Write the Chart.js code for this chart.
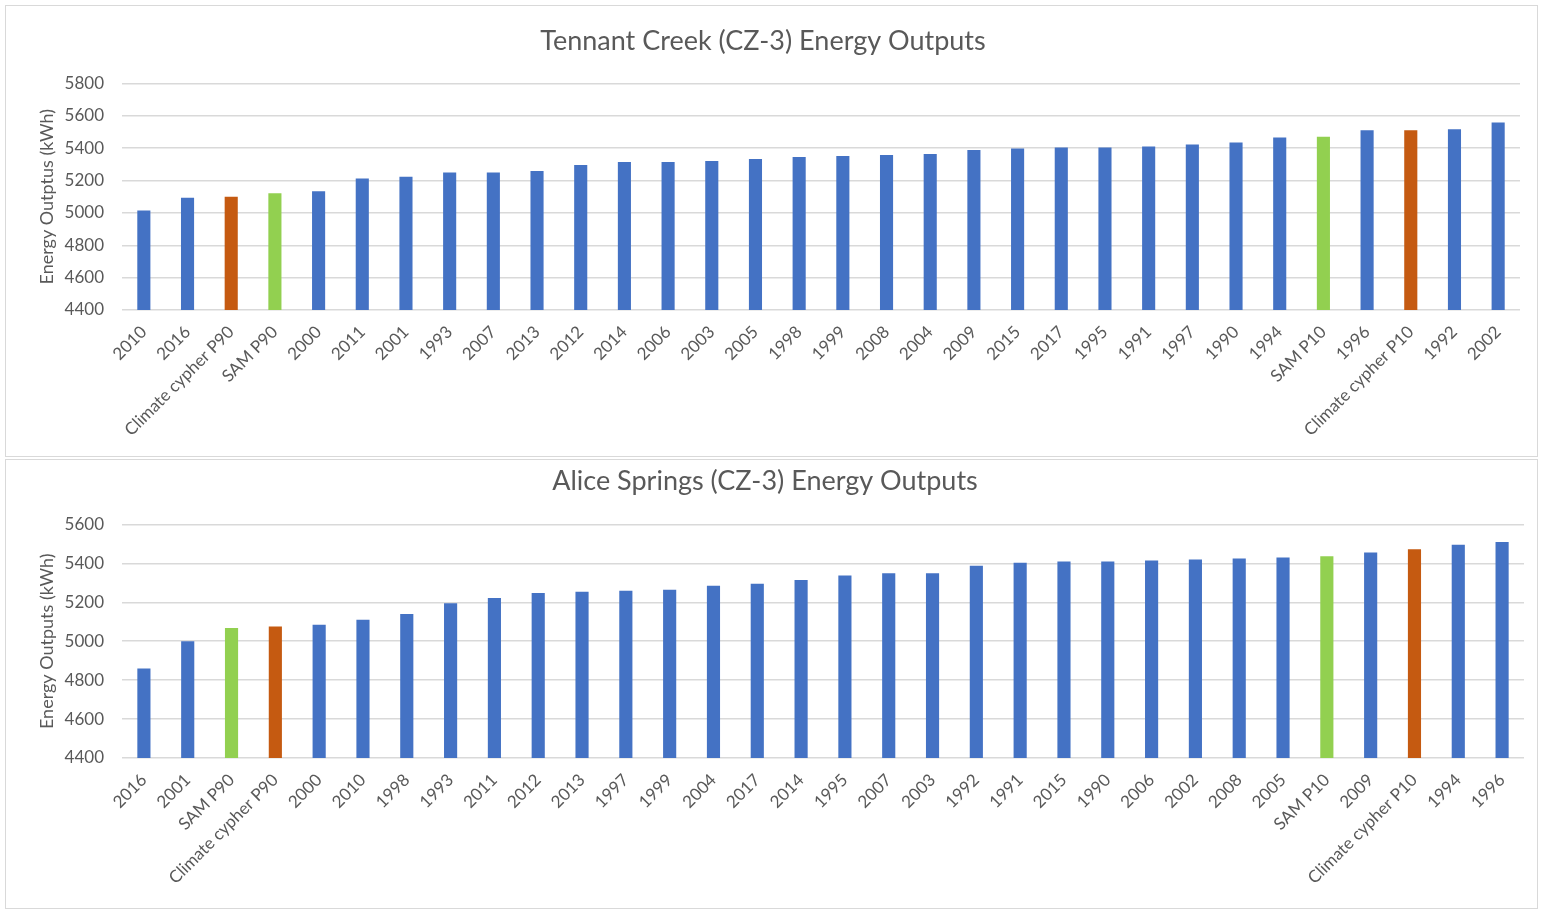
<!DOCTYPE html>
<html>
<head>
<meta charset="utf-8">
<script src="https://cdn.jsdelivr.net/npm/chart.js@4"></script>
<style>
  body { margin: 0; background: #fff; font-family: Lato, sans-serif; }
  .box { position: absolute; left: 5px; width: 1531px; border: 1px solid #d9d9d9; background: #fff; }
  #box1 { top: 5px; height: 450px; }
  #box2 { top: 459px; height: 448px; }
</style>
</head>
<body>
<div class="box" id="box1"><canvas id="tennantChart"></canvas></div>
<div class="box" id="box2"><canvas id="aliceChart"></canvas></div>
<script>
// Tennant Creek, sorted low -> high
const tennantLabels = ['2010', '2016', 'Climate cypher P90', 'SAM P90', '2000', '2011', '2001', '1993', '2007', '2013',
  '2012', '2014', '2006', '2003', '2005', '1998', '1999', '2008', '2004', '2009', '2015', '2017', '1995', '1991',
  '1997', '1990', '1994', 'SAM P10', '1996', 'Climate cypher P10', '1992', '2002'];
const tennantValues = [5015, 5094, 5100, 5121, 5133, 5212, 5224, 5249, 5249, 5259,
  5296, 5315, 5315, 5321, 5333, 5345, 5351, 5357, 5364, 5388, 5398, 5404, 5404, 5410,
  5422, 5435, 5465, 5471, 5510, 5510, 5516, 5559];

// Alice Springs, sorted low -> high
const aliceLabels = ['2016', '2001', 'SAM P90', 'Climate cypher P90', '2000', '2010', '1998', '1993', '2011', '2012',
  '2013', '1997', '1999', '2004', '2017', '2014', '1995', '2007', '2003', '1992', '1991', '2015', '1990', '2006',
  '2002', '2008', '2005', 'SAM P10', '2009', 'Climate cypher P10', '1994', '1996'];
const aliceValues = [4860, 5000, 5068, 5075, 5085, 5110, 5140, 5195, 5222, 5248,
  5254, 5259, 5264, 5285, 5295, 5315, 5337, 5349, 5349, 5388, 5403, 5410, 5410, 5415,
  5420, 5425, 5430, 5436, 5456, 5472, 5495, 5510];

const tennantTicks = [4400, 4600, 4800, 5000, 5200, 5400, 5600, 5800];
const aliceTicks = [4400, 4600, 4800, 5000, 5200, 5400, 5600];

const BLUE = '#4472C4', ORANGE = '#C55A11', GREEN = '#92D050';
const TEXT = '#595959', GRID = '#d9d9d9';

const barColour = (label) => {
    if (label.startsWith('SAM')) return GREEN;
    if (label.startsWith('Climate')) return ORANGE;
    return BLUE;
};

function makeChart(canvasId, title, yTitle, labels, values, ticks, height, titlePad, xHeight, rightPad) {
    const canvas = document.getElementById(canvasId);
    canvas.width = 1531;
    canvas.height = height;
    return new Chart(canvas, {
        type: 'bar',
        data: {
            labels: labels,
            datasets: [{
                data: values,
                backgroundColor: labels.map(barColour),
                barPercentage: 0.3,
                categoryPercentage: 1
            }]
        },
        options: {
            responsive: false,
            animation: false,
            layout: { padding: { left: 0, right: rightPad, bottom: 0 } },
            plugins: {
                legend: { display: false },
                tooltip: { enabled: false },
                title: {
                    display: true,
                    text: title,
                    color: TEXT,
                    font: { family: 'Lato', size: 27, weight: 'normal' },
                    padding: titlePad
                }
            },
            scales: {
                x: {
                    grid: { display: false, drawTicks: false },
                    border: { display: false },
                    ticks: {
                        color: TEXT,
                        font: { family: 'Lato', size: 17 },
                        minRotation: 45,
                        maxRotation: 45,
                        autoSkip: false,
                        padding: 12
                    },
                    afterFit: (s) => { s.height = xHeight; }
                },
                y: {
                    min: ticks[0],
                    max: ticks[ticks.length - 1],
                    afterBuildTicks: (s) => { s.ticks = ticks.map(v => ({ value: v })); },
                    grid: { color: GRID, lineWidth: 1.5, drawTicks: false },
                    border: { display: false },
                    ticks: {
                        color: TEXT,
                        font: { family: 'Lato', size: 17 },
                        padding: 18,
                        callback: (v) => String(v)
                    },
                    title: {
                        display: true,
                        text: yTitle,
                        color: TEXT,
                        font: { family: 'Lato', size: 18 },
                        padding: { top: 30, bottom: 0 }
                    },
                    afterFit: (s) => { s.width = 116; }
                }
            }
        }
    });
}

makeChart('tennantChart', 'Tennant Creek (CZ-3) Energy Outputs', 'Energy Outptus (kWh)',
    tennantLabels, tennantValues, tennantTicks, 450, { top: 19, bottom: 26 }, 146, 17);
makeChart('aliceChart', 'Alice Springs (CZ-3) Energy Outputs', 'Energy Outputs (kWh)',
    aliceLabels, aliceValues, aliceTicks, 448, { top: 5, bottom: 27 }, 150, 13);
</script>
</body>
</html>
